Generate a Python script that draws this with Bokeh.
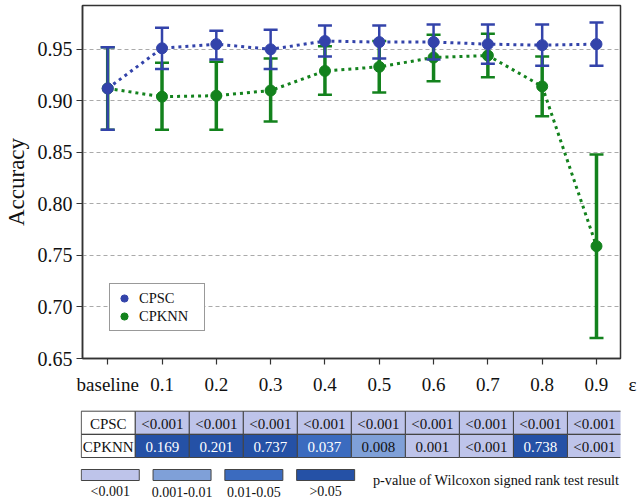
from bokeh.plotting import figure
from bokeh.models import Range1d, FixedTicker, Legend, LegendItem, ColumnDataSource, NumeralTickFormatter
from bokeh.layouts import column, row
from bokeh.embed import file_html
from bokeh.resources import INLINE
from bokeh.core.properties import value

# ---------------- data ----------------
categories = ["baseline", "0.1", "0.2", "0.3", "0.4", "0.5", "0.6", "0.7", "0.8", "0.9"]
x_axis_symbol = "ε"

cpsc_mean  = [0.912, 0.951, 0.955, 0.950, 0.958, 0.957, 0.957, 0.955, 0.954, 0.955]
cpsc_upper = [0.952, 0.971, 0.968, 0.969, 0.973, 0.973, 0.974, 0.974, 0.974, 0.976]
cpsc_lower = [0.872, 0.931, 0.940, 0.931, 0.943, 0.941, 0.940, 0.936, 0.934, 0.934]

cpknn_mean  = [0.912, 0.904, 0.905, 0.910, 0.929, 0.933, 0.942, 0.944, 0.914, 0.759]
cpknn_upper = [0.952, 0.937, 0.938, 0.941, 0.953, 0.958, 0.964, 0.965, 0.943, 0.848]
cpknn_lower = [0.872, 0.872, 0.872, 0.880, 0.906, 0.908, 0.919, 0.923, 0.885, 0.670]

y_ticks = [0.65, 0.70, 0.75, 0.80, 0.85, 0.90, 0.95]

table_rows = ["CPSC", "CPKNN"]
cpsc_p  = ["<0.001", "<0.001", "<0.001", "<0.001", "<0.001", "<0.001", "<0.001", "<0.001", "<0.001"]
cpknn_p = ["0.169", "0.201", "0.737", "0.037", "0.008", "0.001", "<0.001", "0.738", "<0.001"]
cpsc_level  = [0, 0, 0, 0, 0, 0, 0, 0, 0]
cpknn_level = [3, 3, 3, 2, 1, 0, 0, 3, 0]

level_labels = ["<0.001", "0.001-0.01", "0.01-0.05", ">0.05"]
level_colors = ["#BEC4EA", "#7FA0D8", "#3B6BBF", "#2551A6"]
level_text_colors = ["#111111", "#111111", "#FFFFFF", "#FFFFFF"]
legend_note = "p-value of Wilcoxon signed rank test result"

BLUE = "#3343AA"
GREEN = "#13821D"
FONT = "Liberation Serif"

xs = list(range(len(categories)))
x_range = Range1d(-0.464, 9.442)


def style_axis(ax, size="19px"):
    ax.axis_line_color = "#333333"
    ax.axis_line_width = 1.5
    ax.major_tick_line_color = "#333333"
    ax.major_tick_line_width = 1.2
    ax.major_tick_out = 6
    ax.major_tick_in = 0
    ax.minor_tick_line_color = None
    ax.major_label_text_font = FONT
    ax.major_label_text_font_size = size
    ax.major_label_text_color = "#111111"


# ---------------- main chart ----------------
p = figure(width=625, height=400, x_range=x_range, y_range=Range1d(0.65, 0.9925),
           output_backend="svg", toolbar_location=None,
           min_border_left=80, min_border_right=5, min_border_top=5, min_border_bottom=42)
p.background_fill_color = "white"
p.outline_line_color = "#333333"
p.outline_line_width = 1.5

p.xgrid.grid_line_color = None
p.ygrid.grid_line_color = "#AAAAAA"
p.ygrid.grid_line_dash = "4 3"
p.ygrid.grid_line_width = 1

p.xaxis.ticker = FixedTicker(ticks=xs)
p.xaxis.major_label_overrides = {i: c for i, c in enumerate(categories)}
p.yaxis.ticker = FixedTicker(ticks=y_ticks)
p.yaxis.formatter = NumeralTickFormatter(format="0.00")
style_axis(p.xaxis[0])
style_axis(p.yaxis[0], "20px")
p.xaxis.major_label_standoff = 9
p.yaxis.major_label_standoff = 4
p.yaxis.axis_label = "Accuracy"
p.yaxis.axis_label_text_font = FONT
p.yaxis.axis_label_text_font_size = "23px"
p.yaxis.axis_label_text_font_style = "normal"
p.yaxis.axis_label_text_color = "#111111"
p.yaxis.axis_label_standoff = 6

src_k = ColumnDataSource(dict(x=xs, m=cpknn_mean, lo=cpknn_lower, hi=cpknn_upper))
src_c = ColumnDataSource(dict(x=xs, m=cpsc_mean, lo=cpsc_lower, hi=cpsc_upper))

# CPKNN (green) drawn first
p.line("x", "m", source=src_k, line_color=GREEN, line_width=3, line_dash="3 4")
p.segment(x0="x", y0="lo", x1="x", y1="hi", source=src_k, line_color=GREEN, line_width=3.5)
p.scatter("x", "hi", source=src_k, marker="dash", size=14, line_color=GREEN, line_width=2.5)
p.scatter("x", "lo", source=src_k, marker="dash", size=14, line_color=GREEN, line_width=2.5)
rk = p.scatter("x", "m", source=src_k, marker="circle", size=11, fill_color=GREEN, line_color=GREEN)

# CPSC (blue)
p.line("x", "m", source=src_c, line_color=BLUE, line_width=3, line_dash="3 4")
p.segment(x0="x", y0="lo", x1="x", y1="hi", source=src_c, line_color=BLUE, line_width=2.5)
p.scatter("x", "hi", source=src_c, marker="dash", size=14, line_color=BLUE, line_width=2.5)
p.scatter("x", "lo", source=src_c, marker="dash", size=14, line_color=BLUE, line_width=2.5)
rc = p.scatter("x", "m", source=src_c, marker="circle", size=11, fill_color=BLUE, line_color=BLUE)

legend = Legend(items=[LegendItem(label="CPSC", renderers=[rc]),
                       LegendItem(label="CPKNN", renderers=[rk])],
                location=(27, 27))
legend.label_text_font = FONT
legend.label_text_font_size = "14.5px"
legend.label_text_color = "#111111"
legend.glyph_width = 18
legend.glyph_height = 18
legend.label_height = 18
legend.label_width = 60
legend.label_standoff = 6
legend.spacing = 0
legend.padding = 5
legend.margin = 0
legend.border_line_color = "#333333"
legend.border_line_width = 1
legend.background_fill_color = "white"
legend.background_fill_alpha = 1.0
p.add_layout(legend)

# narrow strip to the right of the frame: its own x axis carries the symbol
e = figure(width=14, height=400, x_range=Range1d(0, 14), y_range=Range1d(0, 1),
           output_backend="svg", toolbar_location=None,
           min_border_left=0, min_border_right=0, min_border_top=5, min_border_bottom=42)
e.yaxis.visible = False
e.grid.visible = False
e.outline_line_color = None
e.xaxis.ticker = FixedTicker(ticks=[7])
e.xaxis.major_label_overrides = {7: x_axis_symbol}
style_axis(e.xaxis[0])
e.xaxis.axis_line_color = None
e.xaxis.major_tick_line_color = None
e.xaxis.major_label_standoff = 9

# ---------------- significance table ----------------
t = figure(width=639, height=101, x_range=x_range, y_range=Range1d(101, 0),
           output_backend="svg", toolbar_location=None,
           min_border_left=80, min_border_right=19, min_border_top=0, min_border_bottom=0)
t.axis.visible = False
t.grid.visible = False
t.outline_line_color = None
t.background_fill_color = "white"

col_w = 0.991
col_left = -0.45
row_top = [10.7, 34.0]
row_h = 23.0

lefts, rights, tops, bottoms, fills, txt, tx, ty, tcol = [], [], [], [], [], [], [], [], []
for r, (name, vals, levels) in enumerate([(table_rows[0], cpsc_p, cpsc_level),
                                          (table_rows[1], cpknn_p, cpknn_level)]):
    cells = [(name, None)] + list(zip(vals, levels))
    for k, (s, lev) in enumerate(cells):
        l = col_left + k * col_w
        lefts.append(l)
        rights.append(l + col_w)
        tops.append(row_top[r])
        bottoms.append(row_top[r] + row_h)
        fills.append("white" if lev is None else level_colors[lev])
        txt.append(s)
        tx.append(l + col_w / 2)
        ty.append(row_top[r] + row_h / 2 + 1)
        tcol.append("#111111" if lev is None else level_text_colors[lev])

t.quad(left=lefts, right=rights, top=tops, bottom=bottoms, fill_color=fills,
       line_color="#444444", line_width=1)
t.text(x=tx, y=ty, text=txt, text_color=tcol, text_font=value(FONT),
       text_font_size="15px", text_align="center", text_baseline="middle")

# colour key
sw_left = -0.45
sw_w = 1.064
sw_step = 1.317
sl = [sw_left + i * sw_step for i in range(len(level_labels))]
t.quad(left=sl, right=[s + sw_w for s in sl], top=[69] * 4, bottom=[80] * 4,
       fill_color=level_colors, line_color="#444444", line_width=1)
t.text(x=[s + sw_w / 2 for s in sl], y=[91] * 4, text=level_labels, text_color="#111111",
       text_font=value(FONT), text_font_size="14px", text_align="center", text_baseline="middle")
t.text(x=[4.90], y=[79], text=[legend_note], text_color="#111111", text_font=value(FONT),
       text_font_size="14.3px", text_align="left", text_baseline="middle")

layout = column(row(p, e, spacing=0), t, spacing=0)
with open("out.html", "w") as f:
    f.write(file_html(layout, INLINE))
